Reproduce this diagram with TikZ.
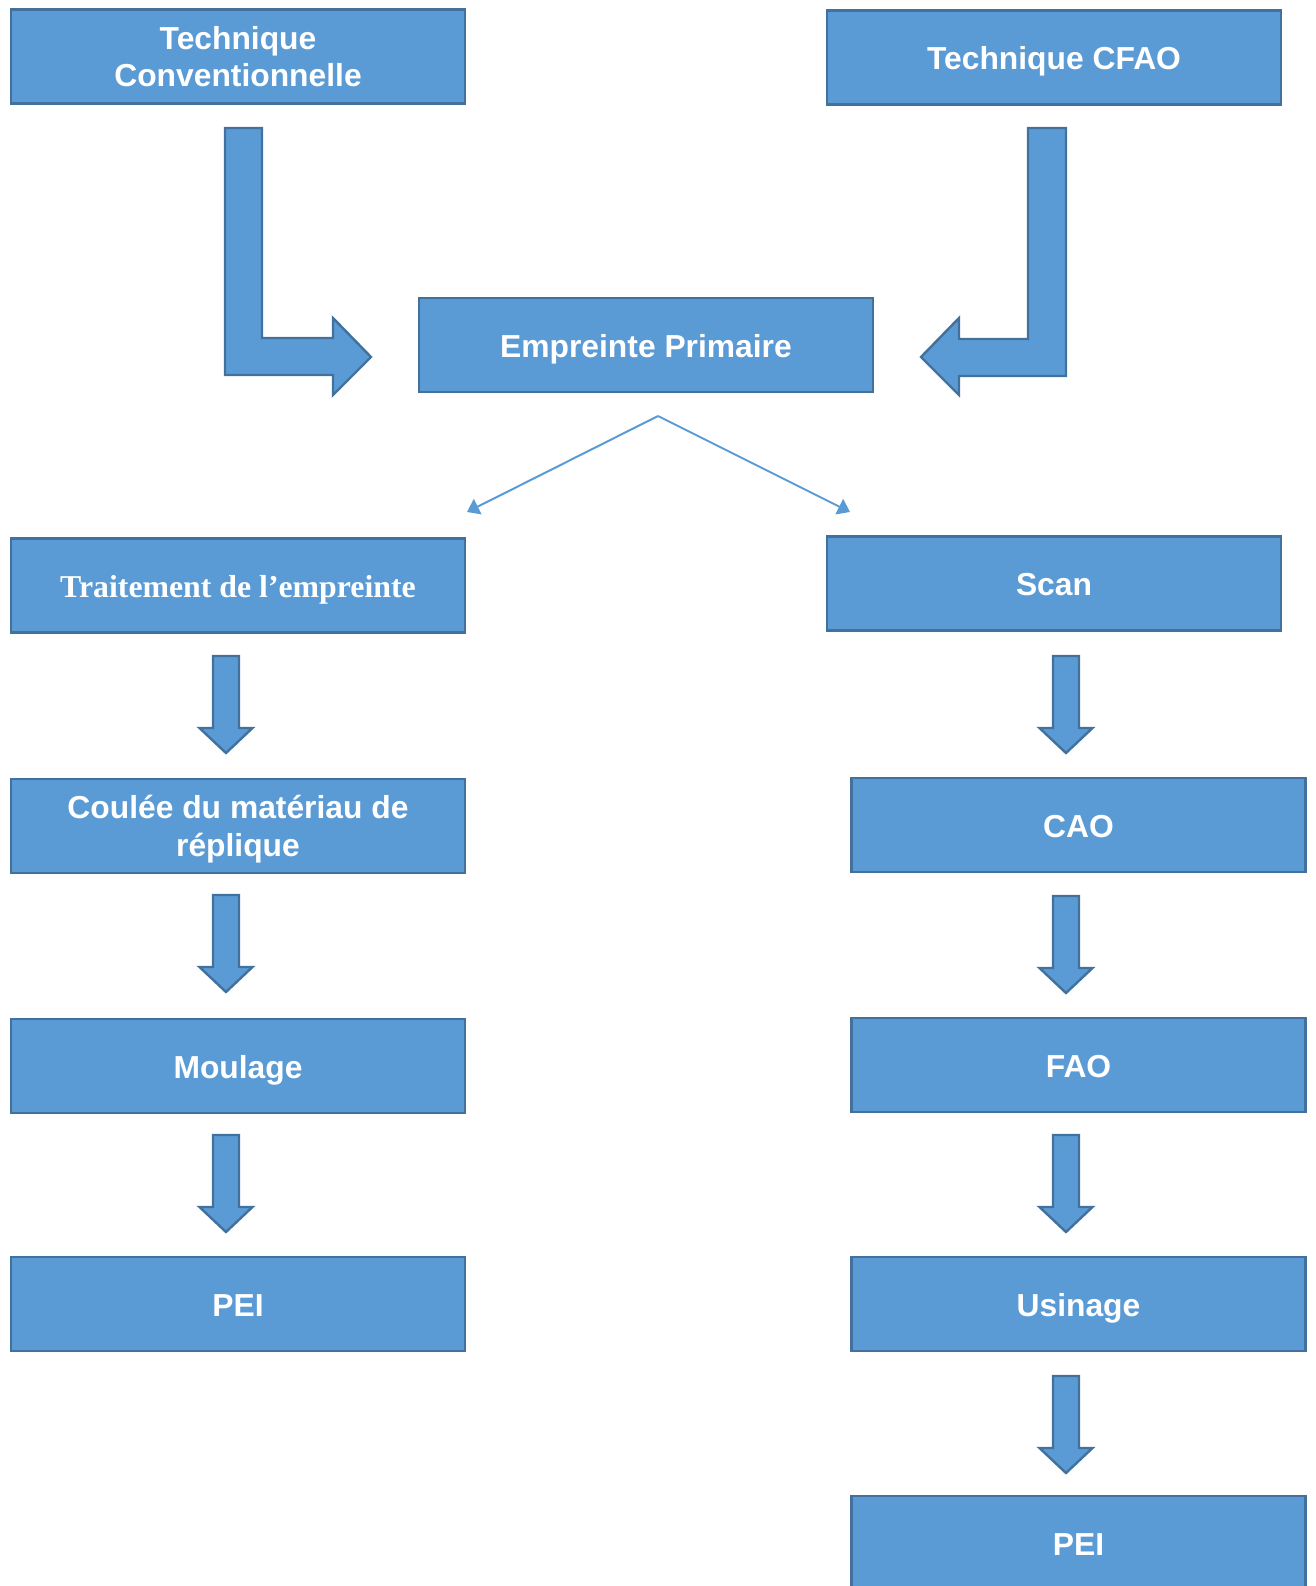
\documentclass[tikz,border=0pt]{standalone}
\usepackage{fontspec}
\setmainfont{Liberation Sans}
\newfontfamily\timesfont{Liberation Serif}
\usepackage{tikz}
\usetikzlibrary{positioning,arrows.meta}
\definecolor{boxblue}{HTML}{5B9BD5}
\definecolor{edgeblue}{HTML}{41719C}
\tikzset{
  stepbox/.style={draw=edgeblue, line width=1.2pt, fill=boxblue, text=white, font=\fontsize{15.9}{18.5}\selectfont\bfseries, minimum width=227pt, minimum height=47pt, inner sep=0pt, align=center},
  onebox/.style={stepbox, text height=12pt, text depth=0pt},
  blockarrow/.style={draw=edgeblue, line width=1.2pt, fill=boxblue, line join=miter},
  thinarrow/.style={-{Triangle[length=6pt, width=8.5pt]}, draw=boxblue, line width=1pt}
}
% block arrow pointing down: #1 = x of axis, #2 = y of top
\newcommand{\blockdown}[2]{%
  \draw[blockarrow] ({#1-13},#2) -- ({#1+13},#2) -- ({#1+13},{#2+72}) -- ({#1+26.5},{#2+72})
    -- (#1,{#2+97}) -- ({#1-26.5},{#2+72}) -- ({#1-13},{#2+72}) -- cycle;}
\begin{document}
\begin{tikzpicture}[x=0.5pt, y=-0.5pt]
  \useasboundingbox (0,0) rectangle (1316,1586);
  % top row
  \node[stepbox] (conv) at (238,56.5) {Technique\\Conventionnelle};
  \node[onebox] (cfao) at (1054,57.5) {Technique CFAO};
  \node[onebox] (prim) at (646,345) {Empreinte Primaire};
  % bent arrows
  \draw[blockarrow] (225,128) -- (262,128) -- (262,338) -- (333,338) -- (333,318) -- (371,357)
    -- (333,395) -- (333,375) -- (225,375) -- cycle;
  \draw[blockarrow] (1066,128) -- (1028,128) -- (1028,339) -- (959,339) -- (959,318) -- (921,357)
    -- (959,395) -- (959,376) -- (1066,376) -- cycle;
  % split
  \coordinate (split) at (658,416);
  \coordinate (toleft) at (467,512);
  \coordinate (toright) at (850,512);
  \draw[thinarrow] (split) -- (toleft);
  \draw[thinarrow] (split) -- (toright);
  % conventional branch
  \node[onebox, font=\fontsize{15.9}{18.5}\selectfont\timesfont\bfseries] (trait) at (238,585.5) {Traitement de l’empreinte};
  \node[stepbox] (coulee) at (238,826) {\begin{tabular}{@{}c@{}}\rule{0pt}{17pt}Coulée du matériau de\\[0.5pt]réplique\end{tabular}};
  \node[onebox] (moul) at (238,1066) {Moulage};
  \node[onebox] (peiA) at (238,1304) {PEI};
  \foreach \yy in {656,895,1135}
    \blockdown{226}{\yy};
  % CFAO branch
  \node[onebox] (scan) at (1054,583.5) {Scan};
  \node[onebox] (cao) at (1078.5,825) {CAO};
  \node[onebox] (fao) at (1078.5,1065) {FAO};
  \node[onebox] (usin) at (1078.5,1304) {Usinage};
  \node[onebox] (peiB) at (1078.5,1543) {PEI};
  \foreach \yy in {656,896,1135,1376}
    \blockdown{1066}{\yy};
\end{tikzpicture}
\end{document}
